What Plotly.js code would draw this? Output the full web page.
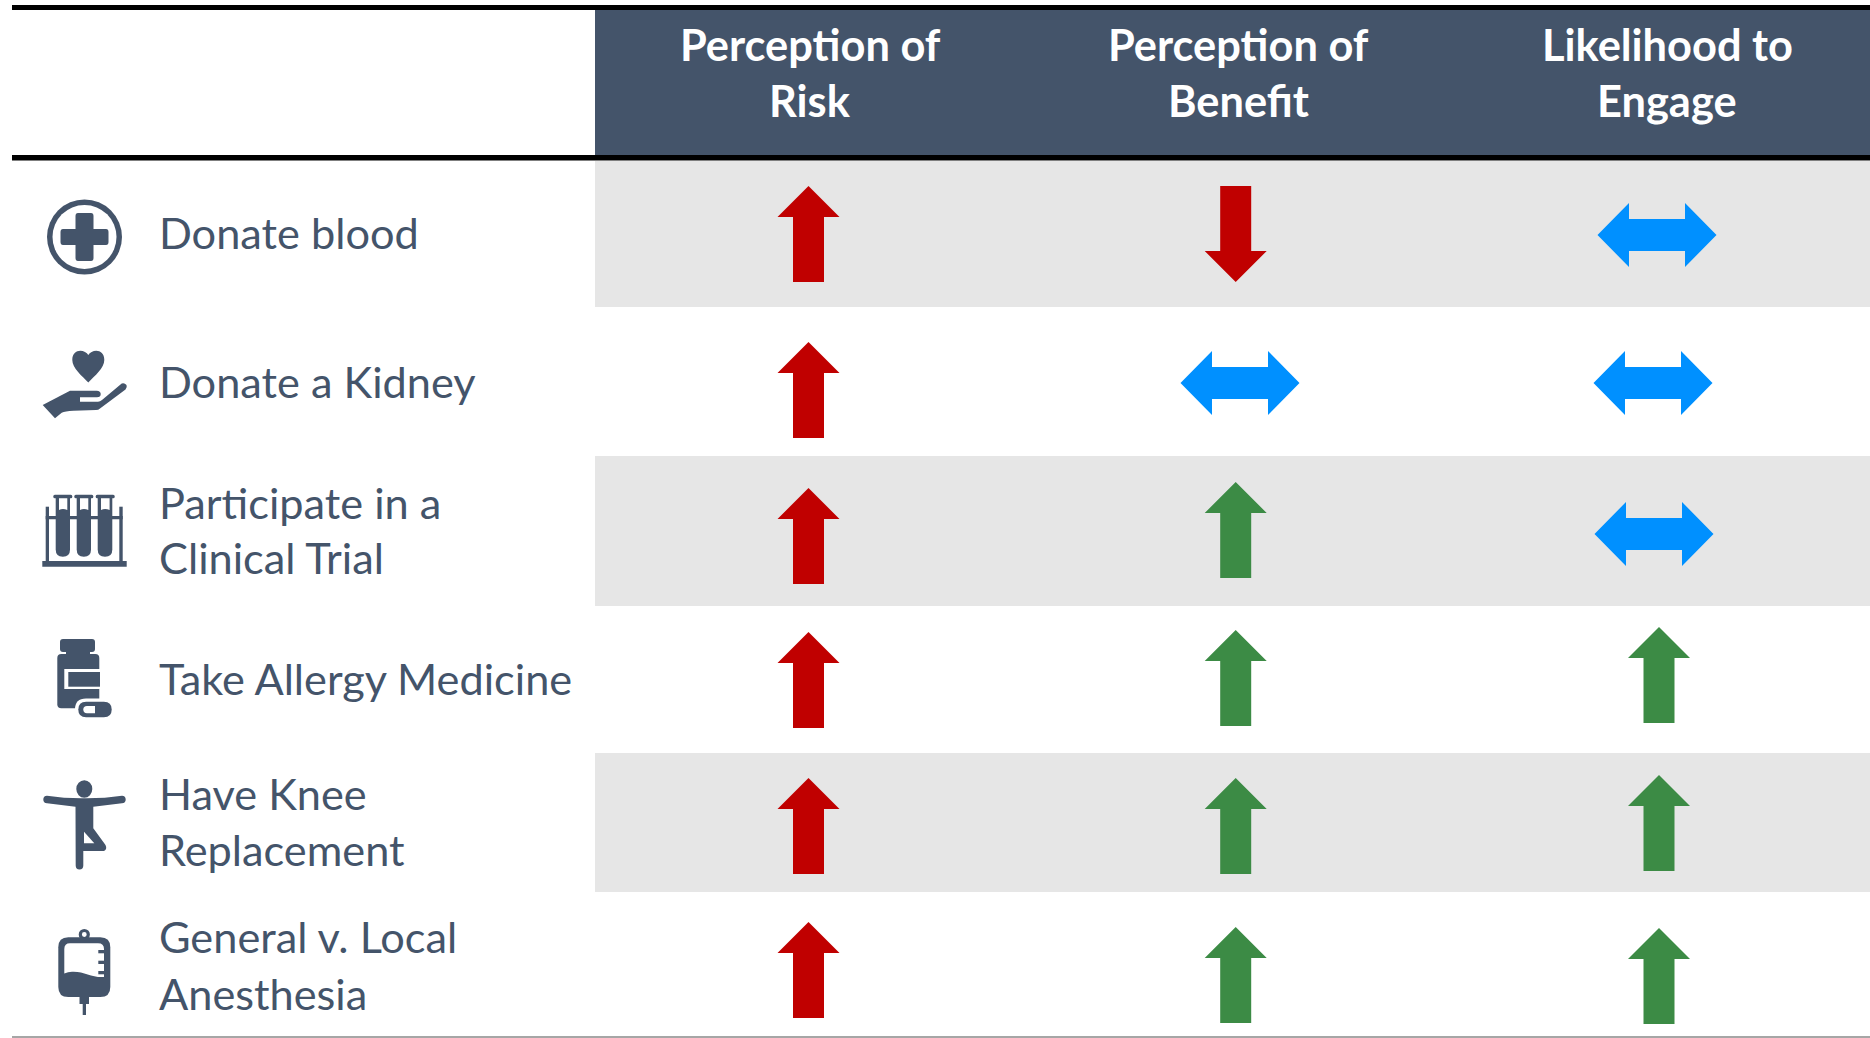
<!DOCTYPE html>
<html>
<head>
<meta charset="utf-8">
<script src="https://cdn.plot.ly/plotly-3.0.1.min.js"></script>
<style>html,body{margin:0;padding:0;background:#fff;overflow:hidden}#chart{width:1870px;height:1038px}</style>
</head>
<body>
<div id="chart"></div>
<script>
// ---- data ----
const activityLines = [
  ["Donate blood"],
  ["Donate a Kidney"],
  ["Participate in a", "Clinical Trial"],
  ["Take Allergy Medicine"],
  ["Have Knee", "Replacement"],
  ["General v. Local", "Anesthesia"]
];
const measureLines = [
  ["Perception of", "Risk"],
  ["Perception of", "Benefit"],
  ["Likelihood to", "Engage"]
];
// +1 increase, -1 decrease, 0 no change
const risk    = [1, 1, 1, 1, 1, 1];
const benefit = [-1, 0, 1, 1, 1, 1];
const engage  = [0, 0, 0, 1, 1, 1];

// ---- layout constants ----
const NAVY = "#44546A", GREY = "#E6E6E6", RED = "#C00000", GREEN = "#3C8B45", BLUE = "#0090FF";
const LABEL_SIZE = 43.3, HEAD_SIZE = 43.4;
const FONT = "Lato, Carlito, sans-serif";
const riskX = [808.5, 808.5, 808.5, 808.5, 808.5, 808.5];
const riskY = [234, 390, 536, 680, 826, 970];
const benefitX = [1235.7, 1240, 1235.7, 1235.7, 1235.7, 1235.7];
const benefitY = [234, 383, 530, 678, 826, 975];
const engageX = [1657, 1653, 1654, 1659, 1659, 1659];
const engageY = [235, 383, 534, 675, 823, 976];
const headX = [810, 1238, 1667];
const headY = [44, 100];
const labelYs = [[232], [381], [502, 557], [678], [793, 849], [936, 993]];
const bands = [[161, 307], [456, 606], [753, 892]];

function arrow(dir, cx, cy, color) {
  let xs, ys;
  if (dir === 0) {
    xs = [-59.5, -28, -28, 28, 28, 59.5, 28, 28, -28, -28, -59.5];
    ys = [0, -32, -16, -16, -32, 0, 32, 16, 16, 32, 0];
  } else {
    xs = [0, 31, 15.5, 15.5, -15.5, -15.5, -31, 0];
    ys = [-48, -17, -17, 48, 48, -17, -17, -48].map(v => v * dir);
  }
  return {
    type: "scatter", mode: "lines", hoverinfo: "skip", showlegend: false,
    x: xs.map(v => v + cx), y: ys.map(v => v + cy),
    fill: "toself", fillcolor: color, line: {width: 0, color: color}
  };
}
function colour(d, up) { return d === 0 ? BLUE : (d < 0 ? RED : up); }

const traces = [];
risk.forEach((d, i) => traces.push(arrow(d, riskX[i], riskY[i], colour(d, RED))));
benefit.forEach((d, i) => traces.push(arrow(d, benefitX[i], benefitY[i], colour(d, GREEN))));
engage.forEach((d, i) => traces.push(arrow(d, engageX[i], engageY[i], colour(d, GREEN))));

const shapes = [];
function rect(x0, y0, x1, y1, color) {
  shapes.push({type: "rect", xref: "x", yref: "y", x0, y0, x1, y1, fillcolor: color, line: {width: 0}, layer: "below"});
}
function path(d, color) {
  shapes.push({type: "path", xref: "x", yref: "y", path: d, fillcolor: color, line: {width: 0}, layer: "below"});
}
function ell(cx, cy, rx, ry, color) {
  shapes.push({type: "circle", xref: "x", yref: "y", x0: cx - rx, x1: cx + rx, y0: cy - ry, y1: cy + ry, fillcolor: color, line: {width: 0}, layer: "below"});
}
function rr(x0, y0, x1, y1, r) {
  return `M${x0 + r},${y0} L${x1 - r},${y0} Q${x1},${y0} ${x1},${y0 + r} L${x1},${y1 - r} Q${x1},${y1} ${x1 - r},${y1} L${x0 + r},${y1} Q${x0},${y1} ${x0},${y1 - r} L${x0},${y0 + r} Q${x0},${y0} ${x0 + r},${y0} Z`;
}

// table backgrounds
rect(595, 8, 1870, 157, NAVY);
bands.forEach(b => rect(595, b[0], 1870, b[1], GREY));
rect(12, 5, 1870, 10, "#000000");
rect(12, 155, 1870, 160.5, "#000000");
rect(12, 1036, 1870, 1038, "#A6A6A6");

// icon 1: medical plus
ell(84.5, 237, 37.5, 37.5, NAVY);
ell(84.5, 237, 32, 32, "#FFFFFF");
path("M78,213 L91,213 Q93.5,213 93.5,216 L93.5,229 L106,229 Q108.5,229 108.5,232 L108.5,242 Q108.5,245 106,245 L93.5,245 L93.5,258 Q93.5,261 91,261 L78,261 Q75.5,261 75.5,258 L75.5,245 L63,245 Q60.5,245 60.5,242 L60.5,232 Q60.5,229 63,229 L75.5,229 L75.5,216 Q75.5,213 78,213 Z", NAVY);

// icon 2: hand with heart
path("M88.3,355 C85,349 72.3,348 72.3,360 C72.3,368 82,376 88.3,382.5 C94.6,376 104.3,368 104.3,360 C104.3,348 91.6,349 88.3,355 Z", NAVY);
path("M42.7,405 L70,390.7 L96.7,390.7 Q100.7,391 100.7,394 Q100.7,397.3 97,397.3 L80,397.3 L80,401.7 L98,401.7 Q100,401.5 102,400 L121.7,383.5 Q124.5,382.5 126.5,385 Q127.5,387.5 125.5,389.5 L100,408.5 Q98.5,410 96,410 L73.3,410.7 Q65,411 61.7,412.7 L55,418.3 Z", NAVY);

// icon 3: test tubes
rect(45.7, 506.7, 49, 561, NAVY);
rect(119.3, 506.7, 122.7, 561, NAVY);
rect(45.7, 516, 122.7, 519.3, NAVY);
rect(42.3, 561, 126.7, 566.7, NAVY);
[[55.7, 70, 53.3, 72.3], [76.7, 91, 74.3, 93.3], [97.7, 112.3, 95.7, 114.7]].forEach(t => {
  const m = (t[0] + t[1]) / 2, h = (t[1] - t[0]) / 2;
  path(`M${t[0]},497 L${t[1]},497 L${t[1]},${556.7 - h} Q${t[1]},556.7 ${m},556.7 Q${t[0]},556.7 ${t[0]},${556.7 - h} Z`, NAVY);
  path(rr(t[2], 494.7, t[3], 498.2, 1.5), NAVY);
  path(`M${t[0] + 3.3},498.2 L${t[1] - 2.7},498.2 L${t[1] - 2.7},510 Q${m},508 ${t[0] + 3.3},510 Z`, "#FFFFFF");
});

// icon 4: pill bottle
path(rr(60, 639, 95, 652, 3), NAVY);
path(rr(57.3, 654, 99.3, 708.3, 4), NAVY);
rect(66, 650, 90, 656, NAVY);
rect(64.3, 669, 100, 689, "#FFFFFF");
rect(68.3, 672, 100, 686.7, NAVY);
path(rr(75, 698.5, 115, 720.5, 11), "#FFFFFF");
path(rr(78.3, 701.7, 111.7, 717.3, 7.8), NAVY);
path("M87,706 L95,706 L95,713.3 L87,713.3 Q83.3,713.3 83.3,709.6 Q83.3,706 87,706 Z", "#FFFFFF");

// icon 5: tree-pose figure
ell(84.3, 789, 8, 8.7, NAVY);
path("M47,795.7 Q65,798.5 84,798.3 Q104,798.5 122,795.7 Q125.7,795.7 125.7,799.5 Q125.7,803 122,803.3 L93.3,806.7 L93.3,828.3 L105.5,845 Q107.5,849 104,851 L83.3,851 L83.3,865.5 Q83.3,869.5 79.5,869.5 Q75.7,869.5 75.7,865.5 L75.5,806.7 L47,803.3 Q43.3,803 43.3,799.5 Q43.3,795.7 47,795.7 Z", NAVY);
path("M84,831.7 L94.3,843.3 L84,843.3 Z", "#FFFFFF");

// icon 6: IV bag
ell(84.3, 934.5, 5.6, 5.6, NAVY);
ell(84.3, 934.5, 2.4, 2.4, "#FFFFFF");
path(rr(58.3, 937.3, 110.3, 997, 10), NAVY);
path("M70,943.3 L98,943.3 Q104,943.3 104,949 L104,977 C92,978 84,971 72,971.7 Q68,972 64.3,973.5 L64.3,949 Q64.3,943.3 70,943.3 Z", "#FFFFFF");
rect(98.3, 950, 106, 953.3, NAVY);
rect(98.3, 960.7, 106, 964, NAVY);
rect(98.3, 971, 106, 974.3, NAVY);
rect(79.5, 996, 89, 1004, NAVY);
rect(82.7, 1003, 86, 1015, NAVY);

// text
const annotations = [];
function addText(text, x, y, anchor, size, color, bold) {
  annotations.push({
    xref: "x", yref: "y", x, y, text: bold ? "<b>" + text + "</b>" : text,
    showarrow: false, xanchor: anchor, yanchor: "middle",
    font: {family: FONT, size, color}, borderpad: 0, borderwidth: 0
  });
}
activityLines.forEach((lines, i) => lines.forEach((t, j) => addText(t, 159, labelYs[i][j], "left", LABEL_SIZE, NAVY, false)));
measureLines.forEach((lines, i) => lines.forEach((t, j) => addText(t, headX[i], headY[j], "center", HEAD_SIZE, "#FFFFFF", true)));

const layout = {
  width: 1870, height: 1038,
  margin: {l: 0, r: 0, t: 0, b: 0, pad: 0},
  paper_bgcolor: "#FFFFFF", plot_bgcolor: "#FFFFFF",
  xaxis: {range: [0, 1870], visible: false, fixedrange: true},
  yaxis: {range: [1038, 0], visible: false, fixedrange: true},
  showlegend: false, hovermode: false,
  shapes, annotations
};
Plotly.newPlot("chart", traces, layout, {displayModeBar: false, staticPlot: true});
</script>
</body>
</html>
